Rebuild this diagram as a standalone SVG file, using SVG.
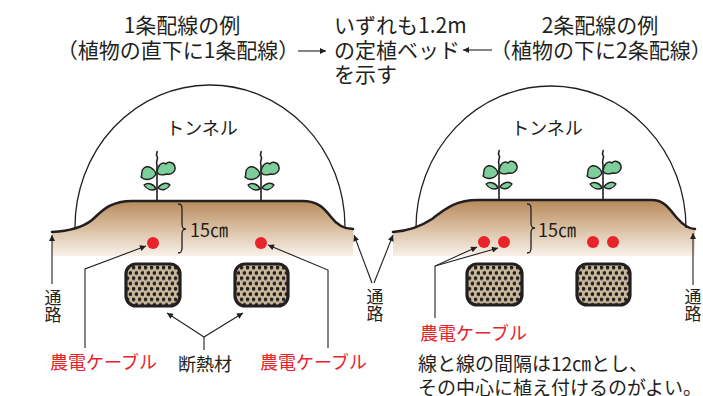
<svg xmlns="http://www.w3.org/2000/svg" width="703" height="396" viewBox="0 0 703 396">
  <style>
    text { font-family: "Noto Sans CJK JP", "Noto Sans", sans-serif; fill: #231f20; }
    .title { font-size: 21px; }
    .lbl { font-size: 18px; }
    .vt { font-size: 17px; writing-mode: vertical-rl; }
    .red { fill: #e8232a; }
    .tunnel { fill: none; stroke: #231f20; stroke-width: 1.3; }
    .ground { fill: none; stroke: #231f20; stroke-width: 2.6; stroke-linecap: round; }
    .arrow { fill: none; stroke: #231f20; stroke-width: 1.1; marker-end: url(#ah); }
    .line { fill: none; stroke: #231f20; stroke-width: 1.1; }
    .brace { fill: none; stroke: #231f20; stroke-width: 1.3; }
    .dot { fill: #e8232a; }
    .block { fill: url(#dots); stroke: #231f20; stroke-width: 3.2; }
    .leaf { fill: #7ccf9a; stroke: #231f20; stroke-width: 1.4; stroke-linejoin: round; }
  </style>
  <defs>
    <marker id="ah" viewBox="0 0 10 10" refX="10" refY="5" markerWidth="7" markerHeight="6" markerUnits="userSpaceOnUse" orient="auto">
      <path d="M0,0 L10,5 L0,10 Z" fill="#231f20"/>
    </marker>
    <linearGradient id="soil" x1="0" y1="200" x2="0" y2="256" gradientUnits="userSpaceOnUse">
      <stop offset="0" stop-color="#b6885a"/>
      <stop offset="0.45" stop-color="#d6b999"/>
      <stop offset="1" stop-color="#f8f1ea"/>
    </linearGradient>
    <pattern id="dots" width="6" height="10.6" patternUnits="userSpaceOnUse">
      <rect width="6" height="10.6" fill="#c9b99a"/>
      <circle cx="1.5" cy="2.6" r="1.9" fill="#231f20"/>
      <circle cx="4.5" cy="7.9" r="1.9" fill="#231f20"/>
    </pattern>
    <!-- seedling, origin at the base of the stem -->
    <g id="plant">
      <path d="M0,0 V-36 C-2,-39 2,-42 0,-45 C-2,-47 1,-48 0,-50" fill="none" stroke="#231f20" stroke-width="1.6"/>
      <path class="leaf" d="M-1,-27 C-3,-33 -9,-36 -13,-33 C-17,-30 -14,-27 -16,-24 C-12,-20 -4,-21 -1,-27 Z"/>
      <path class="leaf" d="M0,-29 C1,-36 5,-40 9,-37 C11,-40 17,-39 18,-34 C19,-29 14,-26 10,-27 C6,-26 2,-25 0,-29 Z"/>
      <path class="leaf" d="M-1,-12 C-3,-17 -9,-19 -13,-16 C-10,-11 -5,-10 -1,-12 Z"/>
      <path class="leaf" d="M1,-13 C4,-18 10,-19 13,-16 C10,-11 5,-10 1,-13 Z"/>
    </g>
  </defs>

  <!-- headings -->
  <g id="heading-left">
    <text class="title" x="182" y="33" text-anchor="middle">1条配線の例</text>
    <text class="title" x="178" y="58" text-anchor="middle">（植物の直下に1条配線）</text>
  </g>
  <g id="heading-center">
    <text class="title" x="334" y="33">いずれも1.2m</text>
    <text class="title" x="334" y="58">の定植ベッド</text>
    <text class="title" x="334" y="82">を示す</text>
  </g>
  <g id="heading-right">
    <text class="title" x="600" y="33" text-anchor="middle">2条配線の例</text>
    <text class="title" x="490" y="58">（植物の下に2条配線）</text>
  </g>

  <!-- left bed: single cable per plant -->
  <g id="bed-left">
    <path d="M52,232 C70,231 82,228 92,220 C102,211 110,201 132,201 L302,201 C318,201 324,208 331,217 C337,225 344,229 353,229 L353,256 L52,256 Z" fill="url(#soil)"/>
    <path class="tunnel" d="M75,228 A135,142 0 0 1 345,226"/>
    <path class="ground" d="M52,232 C70,231 82,228 92,220 C102,211 110,201 132,201 L302,201 C318,201 324,208 331,217 C337,225 344,229 353,229"/>
    <use href="#plant" x="157" y="201"/>
    <use href="#plant" x="261" y="201"/>
    <text class="lbl" x="202" y="135" text-anchor="middle">トンネル</text>
    <path class="brace" d="M178,204 C182,204 182,206 182,210 L182,224 C182,228 183,229 186,229 C183,229 182,230 182,234 L182,248 C182,252 181,253 178,253"/>
    <text class="lbl" x="190" y="237">15㎝</text>
    <circle class="dot" cx="153" cy="243" r="6"/>
    <circle class="dot" cx="261" cy="243" r="6"/>
    <rect class="block" x="126" y="264" width="54" height="42" rx="10"/>
    <rect class="block" x="235" y="264" width="53" height="42" rx="10"/>
  </g>

  <!-- right bed: two cables per plant -->
  <g id="bed-right">
    <path d="M393,232 C408,231 420,227 432,219 C445,209 455,200 478,200 L652,200 C665,200 670,210 677,218 C684,226 690,229 695,229 L695,256 L393,256 Z" fill="url(#soil)"/>
    <path class="tunnel" d="M416,228 A135,142 0 0 1 686,228"/>
    <path class="ground" d="M393,232 C408,231 420,227 432,219 C445,209 455,200 478,200 L652,200 C665,200 670,210 677,218 C684,226 690,229 695,229"/>
    <use href="#plant" x="499" y="200"/>
    <use href="#plant" x="603" y="200"/>
    <text class="lbl" x="547" y="135" text-anchor="middle">トンネル</text>
    <path class="brace" d="M527,204 C531,204 531,206 531,210 L531,223 C531,227 532,228 535,228 C532,228 531,229 531,233 L531,248 C531,252 530,253 527,253"/>
    <text class="lbl" x="538" y="237">15㎝</text>
    <circle class="dot" cx="484" cy="242" r="6"/>
    <circle class="dot" cx="504" cy="242" r="6"/>
    <circle class="dot" cx="593" cy="242" r="6"/>
    <circle class="dot" cx="613" cy="242" r="6"/>
    <rect class="block" x="467" y="264" width="55" height="41" rx="10"/>
    <rect class="block" x="577" y="264" width="53" height="41" rx="10"/>
  </g>

  <!-- leader lines -->
  <g id="connectors">
    <path class="arrow" d="M298,51 H326"/>
    <path class="arrow" d="M492,50 H463"/>
    <path class="arrow" d="M52,284 V235"/>
    <path class="arrow" d="M372,283 L354,235"/>
    <path class="arrow" d="M374,283 L393,235"/>
    <path class="arrow" d="M693,285 V233"/>
    <path class="arrow" d="M85,348 V269 L146,246"/>
    <path class="arrow" d="M328,348 V270 L268,245"/>
    <path class="line" d="M204,350 V337"/>
    <path class="arrow" d="M204,337 L167,313"/>
    <path class="arrow" d="M204,337 L243,313"/>
    <path class="arrow" d="M435,318 V266 L477,247"/>
    <path class="arrow" d="M435,266 L498,248"/>
  </g>

  <!-- labels -->
  <g id="label-path-left">
    <text class="vt" x="53" y="289">通路</text>
  </g>
  <g id="label-path-center">
    <text class="vt" x="375" y="288">通路</text>
  </g>
  <g id="label-path-right">
    <text class="vt" x="693" y="288">通路</text>
  </g>
  <g id="label-cable-left">
    <text class="lbl red" x="50" y="369">農電ケーブル</text>
  </g>
  <g id="label-insulation">
    <text class="lbl" x="205" y="371" text-anchor="middle">断熱材</text>
  </g>
  <g id="label-cable-mid">
    <text class="lbl red" x="260" y="369">農電ケーブル</text>
  </g>
  <g id="label-cable-right">
    <text class="lbl red" x="420" y="340">農電ケーブル</text>
  </g>
  <g id="note">
    <text class="lbl" x="418" y="371" style="font-size:19px">線と線の間隔は12㎝とし、</text>
    <text class="lbl" x="418" y="395" style="font-size:19px">その中心に植え付けるのがよい。</text>
  </g>
</svg>
